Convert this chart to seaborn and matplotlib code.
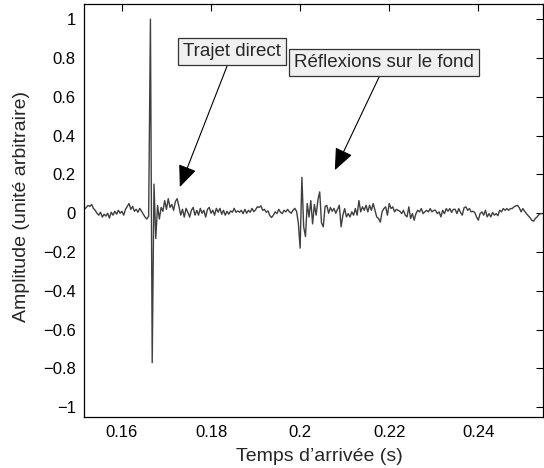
import numpy as np
import pandas as pd
import matplotlib
matplotlib.use("Agg")
import matplotlib.pyplot as plt
import seaborn as sns

# ---- data ----
t_start = 0.1516          # s, first sample
t_step = 0.0004           # s, sampling step
amplitude = [
    0.02, 0.03, 0.04, 0.035, 0.045, 0.025, 0.015, 0.0, -0.01, 0.005,
    -0.02, -0.005, -0.015, 0.0, -0.025, 0.005, -0.01, 0.01, -0.005, 0.015,
    0.0, 0.01, -0.01, 0.02, 0.035, 0.05, 0.02, 0.035, 0.01, 0.02,
    0.005, 0.025, 0.01, -0.005, -0.02, -0.03, -0.015, 1.0, -0.77, 0.15,
    -0.13, 0.04, -0.03, 0.03, 0.01, 0.065, 0.02, 0.075, 0.03, 0.045,
    0.015, 0.06, 0.075, 0.035, -0.01, 0.02, -0.02, 0.025, 0.005, -0.02,
    0.015, 0.03, -0.01, 0.015, -0.01, 0.025, 0.0, 0.015, -0.02, 0.02,
    0.03, 0.0, 0.015, -0.01, 0.025, 0.005, 0.025, -0.005, 0.015, -0.01,
    0.01, -0.005, 0.012, 0.005, 0.025, 0.005, 0.012, 0.005, 0.015, -0.002,
    0.02, 0.0, 0.015, 0.005, 0.025, 0.008, 0.018, 0.033, 0.03, 0.038,
    0.015, 0.02, 0.005, 0.012, -0.012, -0.022, -0.01, 0.007, -0.002, 0.02,
    0.005, -0.002, 0.015, 0.007, 0.02, 0.007, 0.0, 0.015, 0.025, 0.01,
    -0.05, -0.18, 0.185, -0.07, -0.12, 0.05, -0.02, 0.065, -0.055, 0.045,
    -0.01, 0.07, 0.11, -0.05, -0.07, 0.035, 0.04, 0.0, 0.03, 0.01,
    0.025, 0.0, 0.02, 0.041, -0.07, -0.01, 0.024, -0.019, -0.002, -0.019,
    0.007, -0.01, 0.024, -0.01, 0.065, 0.007, 0.033, 0.015, 0.041, 0.007,
    0.041, 0.015, 0.05, 0.015, -0.019, -0.027, -0.046, 0.007, 0.024, 0.033,
    -0.01, 0.05, 0.024, 0.033, 0.007, 0.02, 0.015, 0.01, -0.002, 0.015,
    -0.01, -0.019, 0.033, -0.027, -0.002, -0.036, -0.002, 0.015, 0.007, 0.024,
    -0.002, 0.007, 0.015, 0.007, 0.024, 0.007, 0.015, 0.015, -0.002, 0.007,
    -0.019, 0.015, -0.002, 0.024, 0.01, 0.024, 0.004, 0.02, 0.02, -0.002,
    0.024, 0.004, -0.01, 0.028, 0.033, 0.015, 0.024, 0.007, 0.01, 0.004,
    -0.019, -0.036, -0.002, 0.007, -0.01, 0.015, -0.019, -0.002, -0.019, 0.004,
    -0.01, -0.002, -0.013, 0.015, 0.007, 0.024, 0.015, 0.024, 0.015, 0.024,
    0.024, 0.033, 0.037, 0.041, 0.028, 0.007, 0.024, 0.01, -0.002, -0.013,
    -0.023, -0.036, -0.041, -0.027, -0.019, -0.007, -0.002, -0.002,
]
x_ticks = [0.16, 0.18, 0.20, 0.22, 0.24]
x_tick_labels = ["0.16", "0.18", "0.2", "0.22", "0.24"]
y_ticks = [-1, -0.8, -0.6, -0.4, -0.2, 0, 0.2, 0.4, 0.6, 0.8, 1]
y_tick_labels = ["\u22121", "\u22120.8", "\u22120.6", "\u22120.4", "\u22120.2", "0",
                 "0.2", "0.4", "0.6", "0.8", "1"]
label_direct = "Trajet direct"
label_reflex = "Réflexions sur le fond"
direct_text_xy = (0.1846, 0.835)
direct_tip_xy = (0.1730, 0.135)
reflex_text_xy = (0.2188, 0.778)
reflex_tip_xy = (0.2078, 0.222)

time = t_start + t_step * np.arange(len(amplitude))
df = pd.DataFrame({"t": time, "a": amplitude})

# ---- style ----
sns.set_style("white")
plt.rcParams["font.family"] = ["Liberation Sans", "DejaVu Sans"]

fig = plt.figure(figsize=(5.44, 4.68), dpi=100)
ax = fig.add_axes([0.1545, 0.109, 0.8435, 0.882])

sns.lineplot(data=df, x="t", y="a", ax=ax, color="#3f3f3f", linewidth=1.0,
             estimator=None, sort=False)

ax.set_xlim(0.1515, 0.2545)
ax.set_ylim(-1.05, 1.077)
ax.set_xticks(x_ticks)
ax.set_xticklabels(x_tick_labels)
ax.set_yticks(y_ticks)
ax.set_yticklabels(y_tick_labels)
ax.tick_params(direction="in", top=True, right=True, length=5, width=0.8,
               labelsize=12, colors="black", pad=6)
for s in ax.spines.values():
    s.set_visible(True)
    s.set_color("black")
    s.set_linewidth(0.9)

ax.set_xlabel("Temps d\u2019arrivée (s)", fontsize=14)
ax.set_ylabel("Amplitude (unité arbitraire)", fontsize=14)
ax.xaxis.set_label_coords(0.512, -0.075)
ax.yaxis.set_label_coords(-0.118, 0.51)

box = dict(boxstyle="square,pad=0.27", facecolor="#f0f0f0", edgecolor="#333333", linewidth=0.9)
arrow = dict(arrowstyle="-|>,head_length=0.9,head_width=0.38", color="black",
             linewidth=0.8, shrinkA=0, shrinkB=0, mutation_scale=15)

ax.annotate(label_direct, xy=direct_tip_xy, xytext=direct_text_xy,
            ha="center", va="center", fontsize=13.5, bbox=box,
            arrowprops=dict(arrow, relpos=(0.48, 0.0)))
ax.annotate(label_reflex, xy=reflex_tip_xy, xytext=reflex_text_xy,
            ha="center", va="center", fontsize=13.5, bbox=box,
            arrowprops=dict(arrow, relpos=(0.49, 0.0)))

fig.savefig("out.png", dpi=100)
